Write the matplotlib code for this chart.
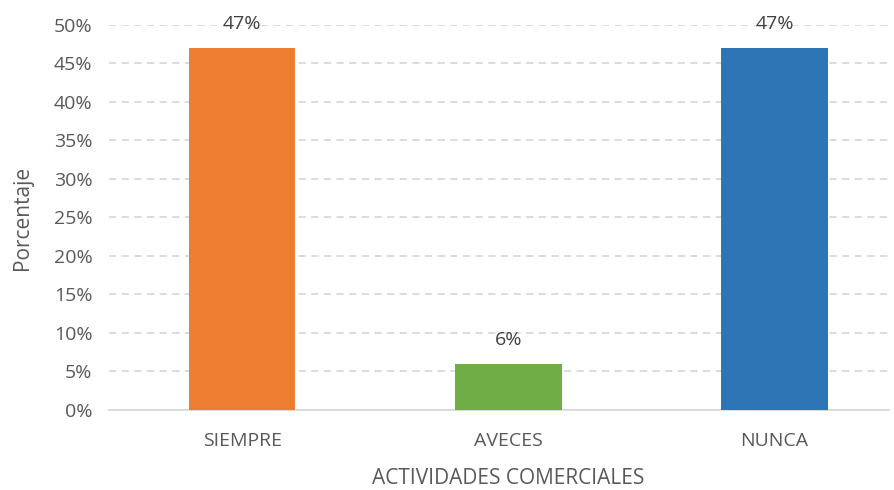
import matplotlib
matplotlib.use("Agg")
import matplotlib.pyplot as plt
from matplotlib.ticker import PercentFormatter

categories = ["SIEMPRE", "AVECES", "NUNCA"]
values = [0.47, 0.06, 0.47]
labels = ["47%", "6%", "47%"]
colors = ["#ED7D31", "#70AD47", "#2E75B6"]

plt.rcParams['font.family'] = ['Open Sans', 'DejaVu Sans']

fig = plt.figure(figsize=(8.95, 4.9), dpi=100)
ax = fig.add_axes([0.1218, 0.1633, 0.8715, 0.7857])

x = range(len(categories))
ax.bar(x, values, width=0.4, color=colors, zorder=3)
for xi, v, lab in zip(x, values, labels):
    ax.annotate(lab, (xi, v), xytext=(0, 11), textcoords="offset points",
                ha="center", va="bottom", fontsize=14, color="#404040")

xmin, xmax = -0.5, 2.43
ax.set_xlim(xmin, xmax)
ax.set_ylim(0, 0.5)
ax.set_yticks([i * 0.05 for i in range(11)])
ax.yaxis.set_major_formatter(PercentFormatter(1.0, decimals=0))
ax.set_xticks(list(x))
ax.set_xticklabels(categories)
ax.tick_params(axis="y", length=0, labelsize=14, colors="#595959", pad=12)
ax.tick_params(axis="x", length=0, labelsize=14, colors="#595959", pad=16)

ax.grid(axis="y", color="#D9D9D9", linestyle=(0, (4, 3)), linewidth=1.3, zorder=0)
for side in ["top", "right", "left"]:
    ax.spines[side].set_visible(False)
ax.spines["bottom"].set_color("#D9D9D9")
ax.spines["bottom"].set_linewidth(1.3)

ax.set_ylabel("Porcentaje", fontsize=15, color="#595959")
ax.yaxis.set_label_coords(-0.098, 0.5)
ax.set_xlabel("ACTIVIDADES COMERCIALES", fontsize=15, color="#595959")
ax.xaxis.set_label_coords((1 - xmin) / (xmax - xmin), -0.15)

fig.savefig("out.png", dpi=100)
